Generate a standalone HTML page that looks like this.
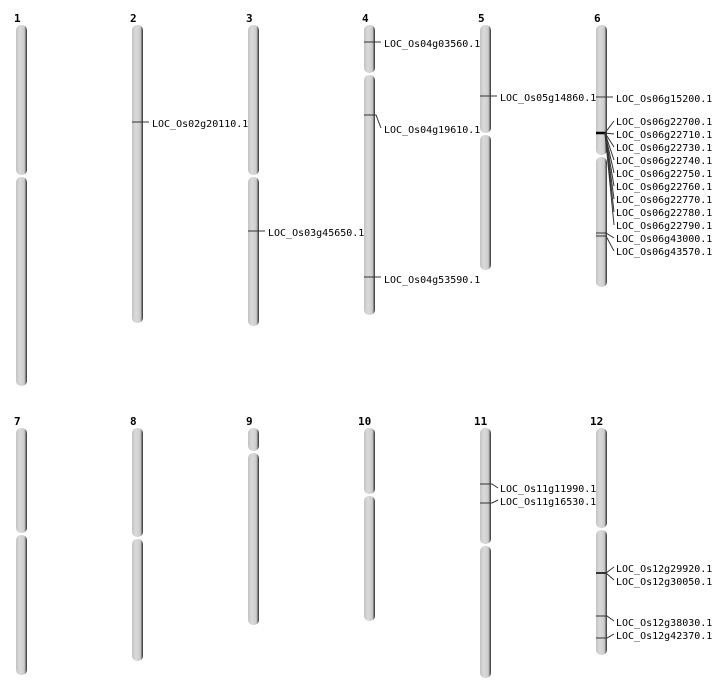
<!DOCTYPE html>
<html><head><meta charset="utf-8"><style>
html,body{margin:0;padding:0;background:#fff;width:712px;height:700px;overflow:hidden}
text{font-family:"DejaVu Sans Mono","Liberation Mono",monospace;font-size:10px;fill:#000}
.n{font-family:"DejaVu Sans Mono","Liberation Mono",monospace;font-weight:bold;font-size:11px}
line{stroke:#333;stroke-width:1}
</style></head><body>
<svg width="712" height="700" xmlns="http://www.w3.org/2000/svg">
<defs>
<linearGradient id="g" x1="0" x2="1" y1="0" y2="0">
<stop offset="0" stop-color="#c4c4c4"/><stop offset="0.35" stop-color="#dadada"/><stop offset="0.75" stop-color="#cdcdcd"/><stop offset="0.86" stop-color="#8a8a8a"/><stop offset="1" stop-color="#2e2e2e"/>
</linearGradient>
</defs>
<g fill="url(#g)">
<!-- row 1 -->
<rect x="16" y="25" width="11" height="150" rx="5"/><rect x="16" y="177" width="11" height="209" rx="5"/>
<rect x="132" y="25" width="11" height="298" rx="5"/>
<rect x="248" y="25" width="11" height="150" rx="5"/><rect x="248" y="177" width="11" height="149" rx="5"/>
<rect x="364" y="25" width="11" height="48" rx="5"/><rect x="364" y="75" width="11" height="240" rx="5"/>
<rect x="480" y="25" width="11" height="108" rx="5"/><rect x="480" y="135" width="11" height="135" rx="5"/>
<rect x="596" y="25" width="11" height="130" rx="5"/><rect x="596" y="157" width="11" height="130" rx="5"/>
<!-- row 2 -->
<rect x="16" y="428" width="11" height="105" rx="5"/><rect x="16" y="535" width="11" height="140" rx="5"/>
<rect x="132" y="428" width="11" height="109" rx="5"/><rect x="132" y="539" width="11" height="122" rx="5"/>
<rect x="248" y="428" width="11" height="23" rx="5"/><rect x="248" y="453" width="11" height="172" rx="5"/>
<rect x="364" y="428" width="11" height="66" rx="5"/><rect x="364" y="496" width="11" height="125" rx="5"/>
<rect x="480" y="428" width="11" height="116" rx="5"/><rect x="480" y="546" width="11" height="132" rx="5"/>
<rect x="596" y="428" width="11" height="100" rx="5"/><rect x="596" y="530" width="11" height="125" rx="5"/>
</g>
<g class="n">
<text class="n" x="14" y="22">1</text><text class="n" x="130" y="22">2</text><text class="n" x="246" y="22">3</text><text class="n" x="362" y="22">4</text><text class="n" x="478" y="22">5</text><text class="n" x="594" y="22">6</text>
<text class="n" x="14" y="425">7</text><text class="n" x="130" y="425">8</text><text class="n" x="246" y="425">9</text><text class="n" x="358" y="425">10</text><text class="n" x="474" y="425">11</text><text class="n" x="590" y="425">12</text>
</g>
<g>
<line x1="132" y1="122" x2="149" y2="122"/><text x="152" y="127">LOC_Os02g20110.1</text>
<line x1="248" y1="231" x2="265" y2="231"/><text x="268" y="236">LOC_Os03g45650.1</text>
<line x1="364" y1="42" x2="381" y2="42"/><text x="384" y="47">LOC_Os04g03560.1</text>
<polyline points="364,115 376,115 381,128" fill="none" stroke="#333"/><text x="384" y="133">LOC_Os04g19610.1</text>
<line x1="364" y1="277" x2="381" y2="277"/><text x="384" y="283">LOC_Os04g53590.1</text>
<line x1="480" y1="96" x2="497" y2="96"/><text x="500" y="101">LOC_Os05g14860.1</text>
<line x1="596" y1="97" x2="613" y2="97"/><text x="616" y="102">LOC_Os06g15200.1</text>
<line x1="596" y1="133" x2="606" y2="133" style="stroke-width:2.5;stroke:#000"/>
<line x1="605" y1="133" x2="614" y2="121"/><line x1="605" y1="133" x2="614" y2="134"/>
<line x1="605" y1="133" x2="614" y2="147"/><line x1="605" y1="133" x2="614" y2="160"/>
<line x1="605" y1="133" x2="614" y2="173"/><line x1="605" y1="133" x2="614" y2="186"/>
<line x1="605" y1="133" x2="614" y2="199"/><line x1="605" y1="133" x2="614" y2="212"/>
<line x1="605" y1="133" x2="614" y2="225"/>
<text x="616" y="125">LOC_Os06g22700.1</text><text x="616" y="138">LOC_Os06g22710.1</text><text x="616" y="151">LOC_Os06g22730.1</text><text x="616" y="164">LOC_Os06g22740.1</text><text x="616" y="177">LOC_Os06g22750.1</text><text x="616" y="190">LOC_Os06g22760.1</text><text x="616" y="203">LOC_Os06g22770.1</text><text x="616" y="216">LOC_Os06g22780.1</text><text x="616" y="229">LOC_Os06g22790.1</text>
<polyline points="596,233 606,233 614,238" fill="none" stroke="#333"/><polyline points="596,236 606,236 614,251" fill="none" stroke="#333"/>
<text x="616" y="242">LOC_Os06g43000.1</text><text x="616" y="255">LOC_Os06g43570.1</text>
<polyline points="480,484 492,484 498,488" fill="none" stroke="#333"/><text x="500" y="492">LOC_Os11g11990.1</text>
<polyline points="480,503 492,503 498,500" fill="none" stroke="#333"/><text x="500" y="505">LOC_Os11g16530.1</text>
<line x1="596" y1="573" x2="607" y2="573" style="stroke-width:2"/>
<line x1="606" y1="573" x2="614" y2="567"/><line x1="606" y1="573" x2="614" y2="580"/>
<text x="616" y="572">LOC_Os12g29920.1</text><text x="616" y="585">LOC_Os12g30050.1</text>
<polyline points="596,616 607,616 614,621" fill="none" stroke="#333"/><text x="616" y="626">LOC_Os12g38030.1</text>
<polyline points="596,638 607,638 614,634" fill="none" stroke="#333"/><text x="616" y="639">LOC_Os12g42370.1</text>
</g>
</svg>
</body></html>
